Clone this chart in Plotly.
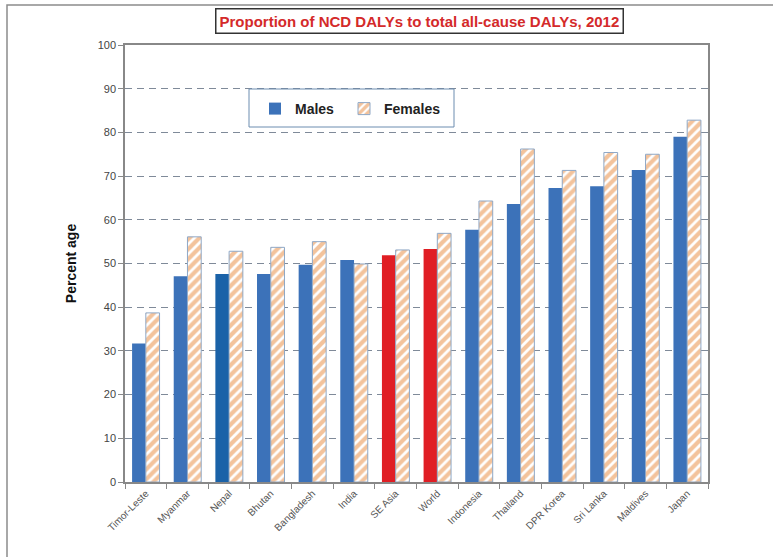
import plotly.graph_objects as go

# Proportion of NCD DALYs in all-cause DALYs, 2012 (per cent)
countries = ["Timor-Leste", "Myanmar", "Nepal", "Bhutan", "Bangladesh", "India",
             "SE Asia", "World", "Indonesia", "Thailand", "DPR Korea", "Sri Lanka",
             "Maldives", "Japan"]
males = [31.7, 47.1, 47.6, 47.6, 49.7, 50.8, 51.9, 53.3, 57.7, 63.6, 67.3, 67.7, 71.4, 79.0]
females = [38.7, 56.1, 52.8, 53.7, 55.0, 49.9, 53.1, 56.9, 64.3, 76.2, 71.3, 75.4, 75.0, 82.8]
y_ticks = [0, 10, 20, 30, 40, 50, 60, 70, 80, 90, 100]

# highlight colours: aggregates in red, Nepal a darker blue
BLUE = "#3C72B9"
male_colors = []
for c in countries:
    if c in ("SE Asia", "World"):
        male_colors.append("#E01E24")
    elif c == "Nepal":
        male_colors.append("#1A62A8")
    else:
        male_colors.append(BLUE)

W, H = 773, 557
L, R, T, B = 125, 65, 45, 75
pw, ph = W - L - R, H - T - B

def px_x(x):
    return (x - L) / pw

def px_y(y):
    return (H - B - y) / ph

fig = go.Figure()
fig.add_trace(go.Bar(
    x=countries, y=males, name="<b>Males</b>", legend="legend",
    marker=dict(color=male_colors, line=dict(width=0)),
))
fig.add_trace(go.Bar(
    x=countries, y=females, name="<b>Females</b>", legend="legend2",
    marker=dict(
        color="white",
        line=dict(color="#8FA8C6", width=1),
        pattern=dict(shape="/", fgcolor="#E8873A", bgcolor="white",
                     size=7, solidity=0.6),
    ),
))

legend_style = dict(
    orientation="h", xanchor="left", yanchor="top",
    bgcolor="rgba(0,0,0,0)", borderwidth=0,
    font=dict(size=14, color="#222222", family="Liberation Sans, Arial, sans-serif"),
    itemwidth=30,
)

fig.update_layout(
    width=W, height=H,
    margin=dict(l=L, r=R, t=T, b=B),
    paper_bgcolor="white", plot_bgcolor="white",
    barmode="group", bargap=0.34, bargroupgap=0,
    font=dict(family="Liberation Sans, Arial, sans-serif", color="#333333"),
    showlegend=True,
    legend=dict(x=px_x(255), y=px_y(93), **legend_style),
    legend2=dict(x=px_x(344), y=px_y(93), **legend_style),
    xaxis=dict(
        type="category",
        tickangle=-45,
        tickfont=dict(size=10, color="#555555"),
        showline=True, linecolor="#888888", linewidth=1.5, mirror=True,
        ticks="outside", ticklen=5, tickcolor="#888888", tickson="boundaries",
        showgrid=False,
    ),
    yaxis=dict(
        range=[0, 100], tickvals=y_ticks,
        tickfont=dict(size=11, color="#444444"),
        showline=True, linecolor="#888888", linewidth=1.5, mirror=True,
        ticks="outside", ticklen=5, tickcolor="#888888",
        showgrid=True, gridcolor="#7F8A99", griddash="7px,5px", gridwidth=1,
        zeroline=False,
        title=dict(text="<b>Percent age</b>", font=dict(size=14, color="#111111"),
                   standoff=18),
    ),
)

# legend frame
fig.add_shape(
    type="rect", xref="paper", yref="paper",
    x0=px_x(249), x1=px_x(454), y0=px_y(127), y1=px_y(89),
    fillcolor="white", line=dict(color="#6D8DB0", width=1), layer="above",
)

# title in a framed box above the plot area
fig.add_annotation(
    text="<b>Proportion of NCD DALYs to total all-cause DALYs, 2012</b>",
    xref="paper", yref="paper", x=px_x(419), y=px_y(21),
    xanchor="center", yanchor="middle", showarrow=False,
    font=dict(size=15, color="#D42A2A", family="Liberation Sans, Arial, sans-serif"),
    bgcolor="white", bordercolor="#333333", borderwidth=1.5, borderpad=3,
)

# outer chart frame (left and top edges)
fig.add_shape(
    type="path", xref="paper", yref="paper",
    path=f"M {px_x(7)},{px_y(557)} L {px_x(7)},{px_y(5)} L {px_x(773)},{px_y(5)}",
    line=dict(color="#8C8C8C", width=1.5),
)

fig.write_html("out.html")
